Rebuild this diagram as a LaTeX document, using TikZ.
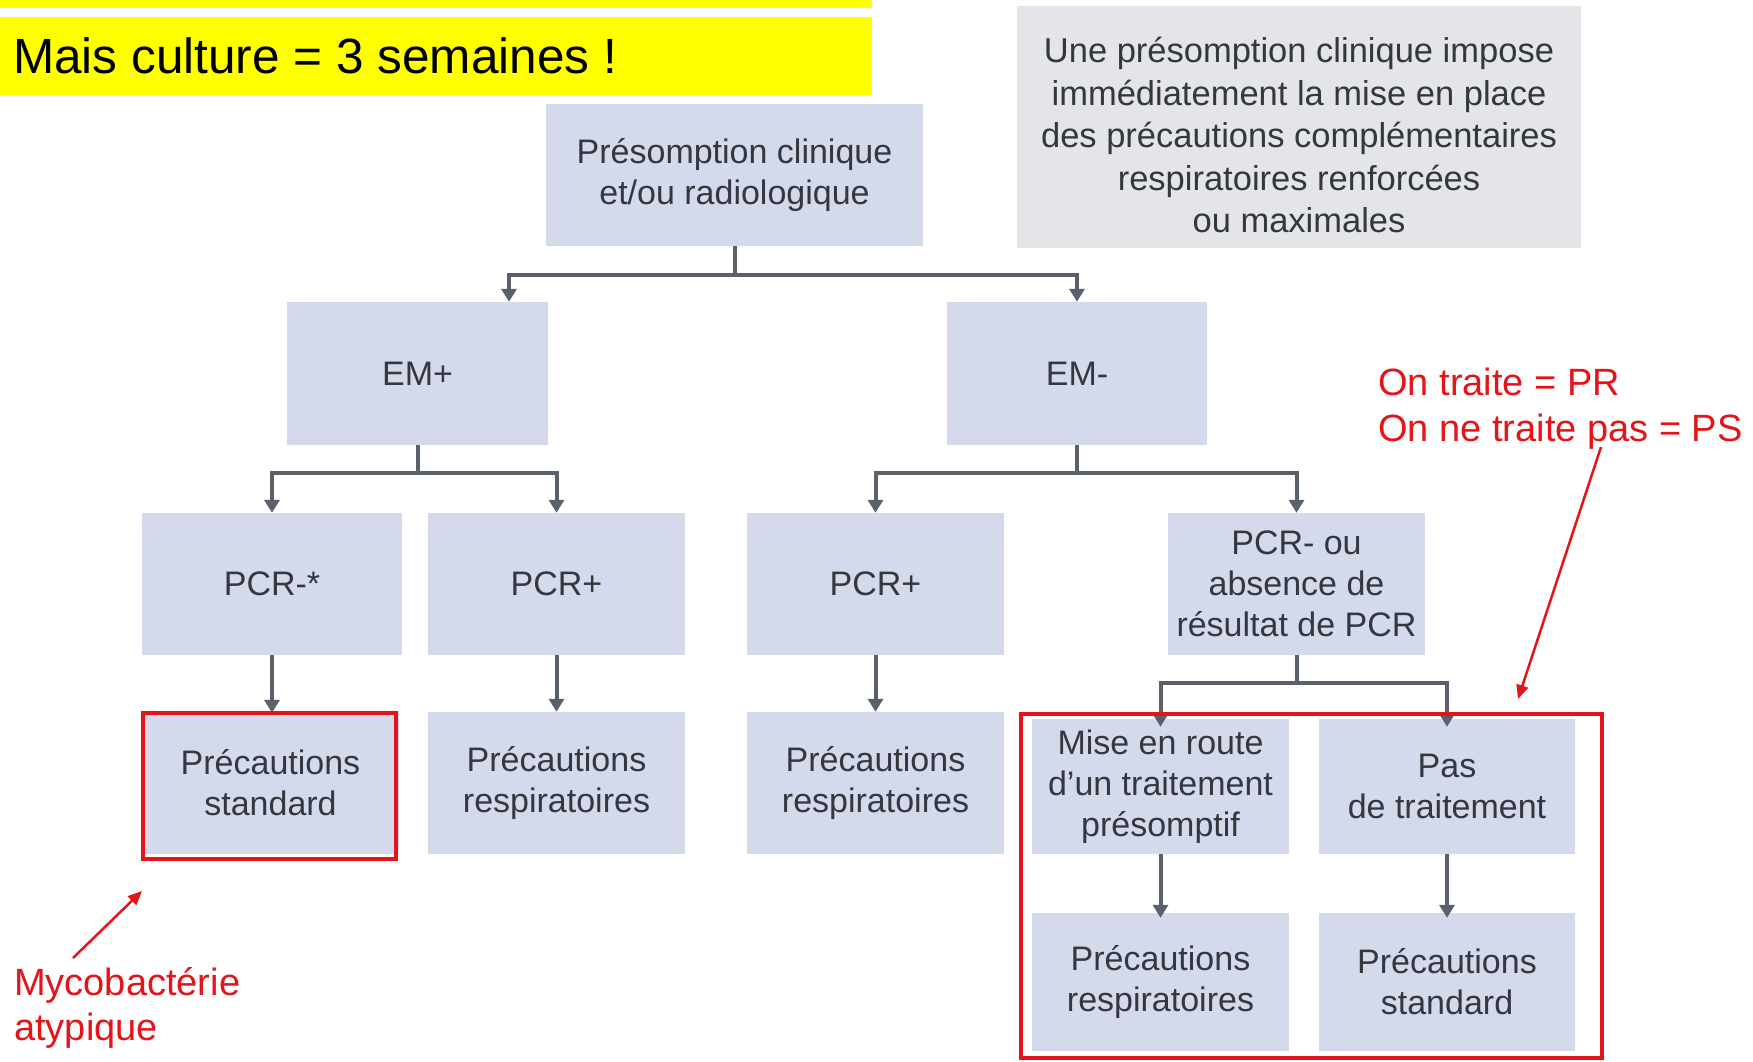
\documentclass[tikz,border=0pt]{standalone}
\usepackage{fontspec}
\setmainfont{Liberation Sans}
\usetikzlibrary{arrows.meta}
\definecolor{boxblue}{RGB}{212,218,236}
\definecolor{boxgray}{RGB}{228,229,233}
\definecolor{boxtext}{RGB}{52,55,62}
\definecolor{linkgray}{RGB}{91,97,108}
\definecolor{hiyellow}{RGB}{255,255,0}
\definecolor{annred}{RGB}{230,20,25}
\begin{document}
\begin{tikzpicture}[x=1pt,y=-1pt,
  flowbox/.style={fill=boxblue, text=boxtext, inner sep=0pt, align=center,
    font=\fontsize{34}{41}\selectfont},
  link/.style={draw=linkgray, line width=4pt,
    -{Triangle[width=15pt,length=13pt]}},
  redline/.style={draw=annred, line width=2.5pt,
    -{Triangle[width=12pt,length=14pt]}},
  redframe/.style={draw=annred, line width=4.5pt},
  redtext/.style={text=annred, inner sep=0pt, anchor=base west,
    font=\fontsize{38}{46}\selectfont, align=left}
]
\useasboundingbox (0,0) rectangle (1753,1061);
\fill[white] (0,0) rectangle (1753,1061);

% yellow banners
\fill[hiyellow] (0,0) rectangle (872,8);
\fill[hiyellow] (0,17) rectangle (872,95);
\node[anchor=west, inner sep=0pt, font=\fontsize{49.5}{59}\selectfont] (banner) at (13,56) {Mais culture = 3 semaines !};

% gray note
\node[fill=boxgray, text=boxtext, inner sep=0pt, align=center,
  minimum width=564pt, minimum height=242pt,
  font=\fontsize{34.5}{42.5}\selectfont] (note) at (1299,127) {};
\node[text=boxtext, inner sep=0pt, align=center,
  font=\fontsize{34.5}{42.5}\selectfont] (notetext) at (1299,135)
  {Une présomption clinique impose\\immédiatement la mise en place\\des précautions complémentaires\\respiratoires renforcées\\ou maximales};

% boxes
\node[flowbox, minimum width=377pt, minimum height=142pt] (root) at (734.5,175) {Présomption clinique\\et/ou radiologique};
\node[flowbox, minimum width=261pt, minimum height=143pt] (emp) at (417.5,373.5) {EM+};
\node[flowbox, minimum width=260pt, minimum height=143pt] (emm) at (1077,373.5) {EM-};

\node[flowbox, minimum width=260pt, minimum height=142pt] (pcrm) at (272,584) {PCR-*};
\node[flowbox, minimum width=257pt, minimum height=142pt] (pcrpa) at (556.5,584) {PCR+};
\node[flowbox, minimum width=257pt, minimum height=142pt] (pcrpb) at (875.5,584) {PCR+};
\node[flowbox, minimum width=257pt, minimum height=142pt] (pcrou) at (1296.5,584) {PCR- ou\\absence de\\résultat de PCR};

\node[flowbox, minimum width=257pt, minimum height=142pt] (psa) at (270.5,783) {Précautions\\standard};
\node[flowbox, minimum width=257pt, minimum height=142pt] (pra) at (556.5,783) {Précautions\\respiratoires};
\node[flowbox, minimum width=257pt, minimum height=142pt] (prb) at (875.5,783) {Précautions\\respiratoires};
\node[flowbox, minimum width=257pt, minimum height=135pt] (mise) at (1160.5,786.5) {Mise en route\\d’un traitement\\présomptif};
\node[flowbox, minimum width=256pt, minimum height=135pt] (pas) at (1447,786.5) {Pas\\de traitement};
\node[flowbox, minimum width=257pt, minimum height=138pt] (prc) at (1160.5,982) {Précautions\\respiratoires};
\node[flowbox, minimum width=256pt, minimum height=138pt] (psc) at (1447,982) {Précautions\\standard};

% connectors
\draw[link] (root.south) -- ++(0,29) -| ([xshift=91.5pt]emp.north);
\draw[link] (root.south) -- ++(0,29) -| (emm.north);
\draw[link] (emp.south) -- ++(0,28) -| (pcrm.north);
\draw[link] (emp.south) -- ++(0,28) -| (pcrpa.north);
\draw[link] (emm.south) -- ++(0,28) -| (pcrpb.north);
\draw[link] (emm.south) -- ++(0,28) -| (pcrou.north);
\draw[link] (pcrm.south) -- ([yshift=-1pt]psa.north -| pcrm.south);
\draw[link] (pcrpa.south) -- (pra.north);
\draw[link] (pcrpb.south) -- (prb.north);
\draw[link] (pcrou.south) -- ++(0,28) -| ([yshift=-8pt]mise.north);
\draw[link] (pcrou.south) -- ++(0,28) -| ([yshift=-8pt]pas.north);
\draw[link] (mise.south) -- ([yshift=-5pt]prc.north);
\draw[link] (pas.south) -- ([yshift=-5pt]psc.north);

% red highlights
\draw[redframe] (143,713) rectangle (396,859);
\draw[redframe] (1021,714) rectangle (1602,1058);

% red annotations
\node[redtext] (ontraite) at (1378,395) {On traite = PR};
\node[redtext] (onnetraite) at (1378,441) {On ne traite pas = PS};
\coordinate (arrA) at (1601,447);
\coordinate (arrAend) at (1518,699);
\draw[redline] (arrA) -- (arrAend);

\node[redtext] (myco) at (14,995) {Mycobactérie};
\node[redtext] (atyp) at (14,1040) {atypique};
\coordinate (arrB) at (73,958);
\coordinate (arrBend) at (142,891);
\draw[redline] (arrB) -- (arrBend);
\end{tikzpicture}
\end{document}
